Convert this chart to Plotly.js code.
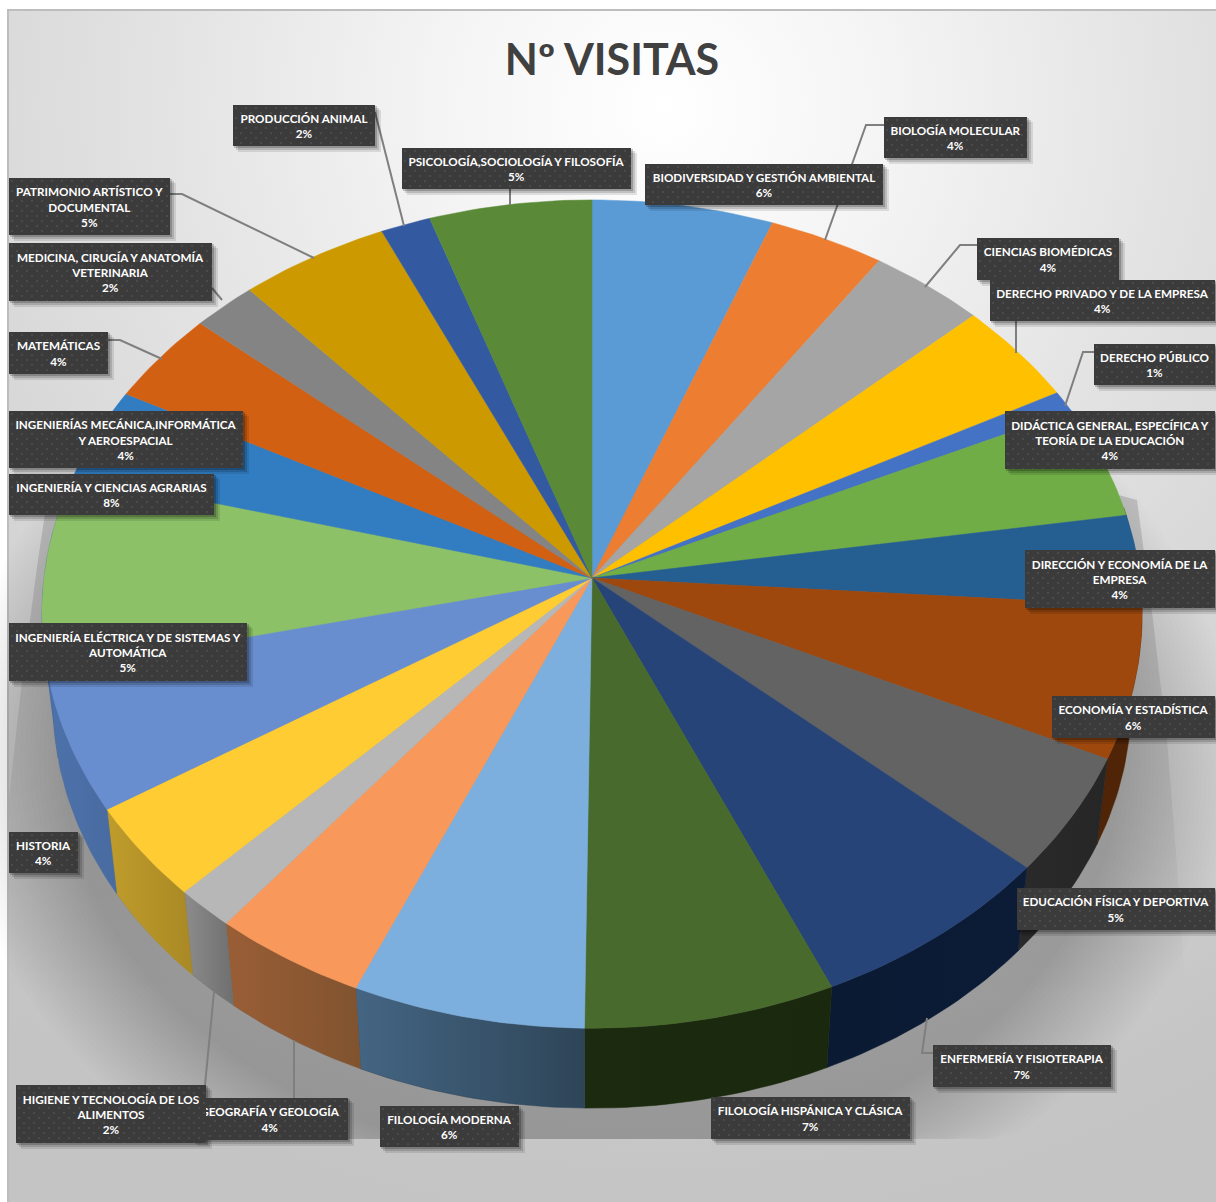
<!DOCTYPE html>
<html><head><meta charset="utf-8">
<script src="https://cdn.plot.ly/plotly-3.0.1.min.js"></script>
<style>
html,body{margin:0;padding:0;background:#fff;width:1216px;height:1202px;overflow:hidden}
#frame{position:absolute;left:7px;top:9px;width:1215px;height:1200px;box-sizing:border-box;border-left:2px solid #bdbdbd;border-top:2px solid #bdbdbd;
background:radial-gradient(circle 1130px at 655px 95px,#ffffff 0,#f4f4f4 230px,#e2e2e2 520px,#d4d4d4 780px,#c6c6c6 1050px,#c4c4c4 100%)}
#chart{position:absolute;left:0;top:0;width:1216px;height:1202px}
</style></head><body><div id="frame"></div><div id="chart"></div>
<script>
const categories=["BIODIVERSIDAD Y GESTIÓN AMBIENTAL","BIOLOGÍA MOLECULAR","CIENCIAS BIOMÉDICAS","DERECHO PRIVADO Y DE LA EMPRESA","DERECHO PÚBLICO","DIDÁCTICA GENERAL, ESPECÍFICA Y<br>TEORÍA DE LA EDUCACIÓN","DIRECCIÓN Y ECONOMÍA DE LA<br>EMPRESA","ECONOMÍA Y ESTADÍSTICA","EDUCACIÓN FÍSICA Y DEPORTIVA","ENFERMERÍA Y FISIOTERAPIA","FILOLOGÍA HISPÁNICA Y CLÁSICA","FILOLOGÍA MODERNA","GEOGRAFÍA Y GEOLOGÍA","HIGIENE Y TECNOLOGÍA DE LOS<br>ALIMENTOS","HISTORIA","INGENIERÍA ELÉCTRICA Y DE SISTEMAS Y<br>AUTOMÁTICA","INGENIERÍA Y CIENCIAS AGRARIAS","INGENIERÍAS MECÁNICA,INFORMÁTICA<br>Y AEROESPACIAL","MATEMÁTICAS","MEDICINA, CIRUGÍA Y ANATOMÍA<br>VETERINARIA","PATRIMONIO ARTÍSTICO Y<br>DOCUMENTAL","PRODUCCIÓN ANIMAL","PSICOLOGÍA,SOCIOLOGÍA Y FILOSOFÍA"];
const values=[5.8,3.7,3.7,4.05,0.85,4.45,3.55,5.9,4.6,6.85,6.8,6.3,4.2,1.6,3.7,5.45,7.7,3.6,3.65,2.05,4.8,1.6,5.2];
const topColors=["#5b9bd5","#ed7d31","#a5a5a5","#ffc000","#4472c4","#70ad47","#255e91","#9e480e","#636363","#264478","#486b2d","#7cafdd","#f8995b","#b7b7b7","#ffcd33","#698ed0","#8cc168","#327dc2","#d26012","#848484","#cc9a00","#335aa1","#5a8a38"];
const wallLeft=["#333","#333","#333","#333","#333","#333","#255e91","#4f2407","#2a2a2a","#0a1a33","#1c2b10","#446583","#9a5e36","#8c8c8c","#bf9c2b","#4d72ab","#4d72ab","#333","#333","#333","#333","#333","#333"];
const wallRight=["#333","#333","#333","#333","#333","#333","#255e91","#4f2407","#262626","#0c1c36","#1a280e","#2e4558","#80532f","#6f6f6f","#a98925","#486ba0","#486ba0","#333","#333","#333","#333","#333","#333"];
const labelBoxes=[[645,883,164,205],[884,1027,117,158],[977,1119,238,280],[990,1215,280,321],[1094,1215,344,385],[1005,1215,411,469],[1025,1215,550,608],[1052,1215,696,738],[1017,1215,888,930],[933,1111,1045,1087],[711,910,1097,1139],[380,519,1106,1147],[192,348,1098,1140],[16,206,1085,1143],[9,78,832,873],[9,247,623,681],[9,214,474,515],[9,243,411,468],[9,108,332,374],[9,212,243,301],[9,170,178,235],[233,375,105,146],[402,631,148,189]];
const leaders=[[[884,125],[866,125],[825,240]],[[977,245],[960,245],[925,287]],[[1016,321],[1016,353]],[[1094,352],[1083,352],[1065,406]],[[933,1053],[922,1053],[927,1018]],[[294,1098],[294,1040]],[[205,1085],[214,992]],[[170,194],[182,194],[314,258]],[[212,288],[222,300]],[[108,340],[120,340],[162,359]],[[375,112],[404,226]],[[510,189],[510,205]]];
const bandX=[90,47,38,22,9,9,1186,1175,1167,1153,1137,1100,90];
const bandY=[490,500,560,680,797,1000,1000,840,740,620,500,490,490];

const CX=592,CY=578,A=548,B=411,K=0.087,CY2=667,S=0.98;
function pt(t,bottom){const r=t*Math.PI/180,u=Math.sin(r),v=Math.cos(r),d=1+K*v;
  return bottom?[CX+S*A*u/d,CY2-S*B*v/d]:[CX+A*u/d,CY-B*v/d];}
const total=values.reduce((a,b)=>a+b,0);
const traces=[{type:'scatter',mode:'lines',x:bandX,y:bandY,fill:'toself',fillgradient:{type:'vertical',colorscale:[[0,'rgba(0,0,0,0)'],[1,'rgba(0,0,0,0.15)']]},line:{width:0},hoverinfo:'skip'}],tops=[];let acc=0;
values.forEach((val,i)=>{
  const t0=acc/total*360,t1=(acc+val)/total*360;acc+=val;
  const n=Math.max(2,Math.ceil(t1-t0));
  const xs=[CX],ys=[CY];
  for(let j=0;j<=n;j++){const p=pt(t0+(t1-t0)*j/n);xs.push(p[0]);ys.push(p[1]);}
  xs.push(CX);ys.push(CY);
  const name=categories[i].replace('<br>',' ');
  tops.push({type:'scatter',mode:'lines',x:xs,y:ys,fill:'toself',fillcolor:topColors[i],line:{color:topColors[i],width:0.5},name:name,text:name,hoverinfo:'text'});
  const w0=Math.max(t0,80),w1=Math.min(t1,280);
  if(w1>w0){
    const m=Math.max(2,Math.ceil(w1-w0)),wx=[],wy=[];
    for(let j=0;j<=m;j++){const p=pt(w0+(w1-w0)*j/m);wx.push(p[0]);wy.push(p[1]);}
    for(let j=m;j>=0;j--){const p=pt(w0+(w1-w0)*j/m,true);wx.push(p[0]);wy.push(p[1]);}
    wx.push(wx[0]);wy.push(wy[0]);
    traces.push({type:'scatter',mode:'lines',x:wx,y:wy,fill:'toself',fillgradient:{type:'horizontal',colorscale:[[0,wallLeft[i]],[1,wallRight[i]]]},line:{color:wallRight[i],width:0.5},hoverinfo:'skip',showlegend:false});
  }
});
// background shadow (decoration)
function ellPath(cx,cy,rx,ry){let s='';for(let a=0;a<=360;a+=3){const r=a*Math.PI/180;
  const x=cx+rx*Math.sin(r),y=Math.min(1139,cy-ry*Math.cos(r));s+=(a?'L':'M')+x.toFixed(1)+','+y.toFixed(1);}return s+'Z';}
const shapes=[];
for(let i=0;i<24;i++){
  shapes.push({type:'path',layer:'below',path:ellPath(592,760,640-i*4.8,500-i*4.2),fillcolor:'rgba(0,0,0,0.0095)',line:{width:0}});
}
leaders.forEach(l=>{
  let s='';l.forEach((p,i)=>{s+=(i?'L':'M')+p[0]+','+p[1];});
  shapes.push({type:'path',path:s,line:{color:'#7f7f7f',width:2},layer:'above'});
});
const anns=[];
labelBoxes.forEach(b=>{
  [[6,.10],[4,.14],[2,.2]].forEach(o=>shapes.push({type:'rect',x0:b[0]+o[0]-1,x1:b[1]+o[0],y0:b[2]+o[0]-1,y1:b[3]+o[0],fillcolor:'rgba(0,0,0,'+o[1]+')',line:{width:0},layer:'above'}));
});
labelBoxes.forEach((b,i)=>{
  anns.push({xref:'x',yref:'y',x:(b[0]+b[1])/2,y:(b[2]+b[3])/2,xanchor:'center',yanchor:'middle',showarrow:false,
   text:categories[i]+'<br>'+Math.round(values[i]/total*100)+'%',align:'center',width:b[1]-b[0],height:b[3]-b[2],borderpad:0,borderwidth:0,
   bgcolor:'#3c3c3c',font:{family:'Lato, sans-serif',size:11.7,color:'#ffffff',weight:700}});
});
const layout={width:1216,height:1202,margin:{l:0,r:0,t:0,b:0},paper_bgcolor:'rgba(0,0,0,0)',plot_bgcolor:'rgba(0,0,0,0)',showlegend:false,
 title:{text:'<b>Nº VISITAS</b>',font:{family:'Lato, sans-serif',size:43,color:'#404040'},x:612/1216,xanchor:'center',y:1-60/1202,yanchor:'middle'},
 xaxis:{range:[0,1216],visible:false,fixedrange:true},yaxis:{range:[1202,0],visible:false,fixedrange:true},shapes:shapes,annotations:anns};
Plotly.newPlot('chart',traces.concat(tops),layout,{displayModeBar:false}).then(()=>{
  const svg=document.querySelector('#chart .main-svg');
  const ns='http://www.w3.org/2000/svg';
  const defs=svg.querySelector('defs')||svg.insertBefore(document.createElementNS(ns,'defs'),svg.firstChild);
  const pat=document.createElementNS(ns,'pattern');
  pat.setAttribute('id','dotpat');pat.setAttribute('width','10');pat.setAttribute('height','10');pat.setAttribute('patternUnits','userSpaceOnUse');
  pat.innerHTML='<rect width="10" height="10" fill="#3b3b3b"/><rect x="2" y="2" width="2" height="2" fill="#4a4a4a"/><rect x="7" y="7" width="2" height="2" fill="#4a4a4a"/>';
  defs.appendChild(pat);
  document.querySelectorAll('#chart .annotation rect.bg').forEach(r=>{r.style.fill='url(#dotpat)';});
});
</script></body></html>
